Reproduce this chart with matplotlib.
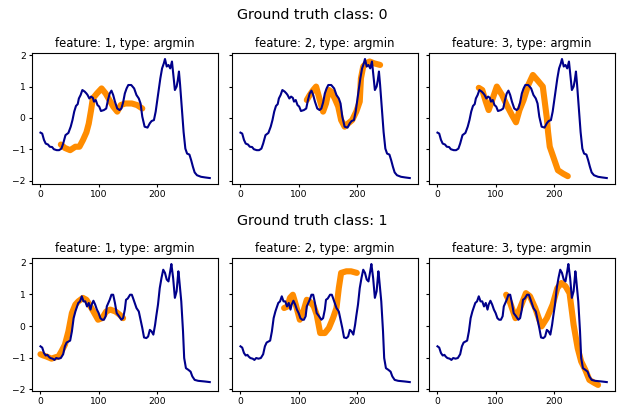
import matplotlib
matplotlib.use("Agg")
import matplotlib.pyplot as plt

# -----------------------------
# data
# -----------------------------
series_class0 = [
    (0, -0.47), (3, -0.5), (6, -0.7), (9, -0.82), (13, -0.85), (16, -0.92), (20, -0.93),
    (23, -1.0), (28, -1.03), (32, -1.03), (36, -0.98), (39, -0.82), (43, -0.55), (48, -0.48),
    (52, -0.28), (55, -0.07), (58, 0.2), (61, 0.38), (64, 0.44), (66, 0.62), (69, 0.73),
    (72, 0.89), (76, 0.84), (79, 0.78), (81, 0.73), (84, 0.62), (87, 0.68), (90, 0.64),
    (92, 0.52), (95, 0.57), (98, 0.41), (101, 0.36), (104, 0.22), (109, 0.25), (113, 0.3),
    (116, 0.57), (119, 0.78), (122, 0.87), (125, 0.73), (128, 0.52), (132, 0.3), (136, 0.25),
    (139, 0.3), (142, 0.49), (145, 0.78), (148, 0.94), (151, 1.05), (156, 1.05), (161, 0.94),
    (165, 0.73), (169, 0.62), (172, 0.46), (175, 0.04), (179, -0.28), (184, -0.31),
    (188, -0.17), (191, -0.1), (195, -0.07), (198, 0.2), (202, 0.73), (206, 1.26), (209, 1.58),
    (212, 1.74), (214, 1.88), (217, 1.64), (220, 1.69), (223, 1.58), (226, 1.8), (229, 1.26),
    (231, 0.89), (234, 1.0), (236, 1.2), (238, 1.48), (240, 1.05), (243, 0.3), (246, -0.45),
    (249, -0.98), (252, -1.14), (256, -1.17), (259, -1.35), (262, -1.56), (265, -1.74),
    (269, -1.83), (276, -1.88), (283, -1.9), (291, -1.92),
]

series_class1 = [
    (0, -0.64), (3, -0.68), (6, -0.85), (9, -0.93), (12, -0.91), (14, -0.96), (17, -1.01),
    (21, -1.03), (24, -1.07), (27, -1.01), (31, -1.03), (35, -1.01), (39, -0.89), (42, -0.64),
    (45, -0.52), (48, -0.49), (51, -0.46), (54, -0.17), (57, 0.25), (60, 0.46), (62, 0.57),
    (65, 0.73), (68, 0.78), (71, 0.94), (74, 0.78), (77, 0.78), (80, 0.62), (83, 0.73),
    (86, 0.52), (88, 0.68), (91, 0.8), (94, 0.68), (97, 0.52), (100, 0.41), (103, 0.25),
    (106, 0.2), (109, 0.2), (112, 0.31), (114, 0.62), (119, 0.83), (122, 0.99), (125, 0.99),
    (128, 0.73), (131, 0.41), (135, 0.31), (139, 0.2), (142, 0.25), (145, 0.52), (147, 0.83),
    (150, 0.87), (154, 0.99), (157, 0.99), (159, 0.89), (162, 0.73), (165, 0.57), (169, 0.46),
    (172, 0.2), (175, -0.06), (178, -0.36), (182, -0.38), (185, -0.33), (188, -0.12),
    (191, -0.17), (194, -0.27), (197, 0.04), (199, 0.31), (202, 0.68), (205, 1.2), (208, 1.52),
    (211, 1.78), (214, 1.68), (217, 1.47), (220, 1.41), (223, 1.73), (225, 1.96), (228, 1.52),
    (231, 0.89), (234, 1.1), (237, 1.73), (238, 1.57), (242, 0.78), (245, -0.17), (247, -1.01),
    (250, -1.33), (254, -1.38), (258, -1.44), (261, -1.59), (265, -1.7), (271, -1.73),
    (282, -1.75), (291, -1.77),
]

# argmin subsequences (orange), one per feature
shapelets_class0 = [
    [(35, -0.85), (42, -0.96), (51, -1.03), (60, -0.92), (67, -0.92), (73, -0.71),
     (79, -0.46), (83, -0.18), (87, 0.25), (90, 0.62), (97, 0.78), (105, 0.94), (112, 0.78),
     (117, 0.62), (125, 0.36), (132, 0.2), (138, 0.41), (146, 0.46), (157, 0.46),
     (166, 0.41), (175, 0.3)],
    [(114, 0.57), (119, 0.73), (125, 0.89), (130, 1.0), (134, 0.73), (138, 0.46), (142, 0.2),
     (147, 0.46), (152, 0.89), (156, 0.84), (162, 0.62), (168, 0.36), (173, -0.07),
     (179, -0.28), (185, -0.18), (192, -0.07), (199, 0.2), (205, 0.52), (207, 1.26),
     (211, 1.64), (216, 1.74), (222, 1.8), (230, 1.74), (240, 1.69)],
    [(71, 0.96), (77, 0.89), (83, 0.52), (88, 0.25), (94, 0.57), (102, 1.0), (111, 0.73),
     (119, 0.41), (128, 0.09), (135, -0.14), (141, 0.25), (148, 0.57), (156, 1.05),
     (164, 1.37), (172, 1.2), (181, 1.0), (188, -0.01), (190, -0.44), (193, -0.92),
     (199, -1.24), (207, -1.67), (216, -1.78), (224, -1.86)],
]

shapelets_class1 = [
    [(0, -0.89), (5, -0.93), (10, -0.96), (19, -1.03), (25, -0.99), (31, -0.96), (36, -0.8),
     (42, -0.59), (48, -0.17), (54, 0.41), (60, 0.68), (65, 0.78), (73, 0.89), (79, 0.83),
     (84, 0.68), (91, 0.46), (99, 0.2), (106, 0.25), (113, 0.46), (120, 0.52), (129, 0.46),
     (136, 0.36), (142, 0.25)],
    [(75, 0.57), (81, 0.62), (85, 0.89), (90, 0.99), (95, 0.68), (102, 0.2), (108, 0.46),
     (114, 0.83), (119, 0.78), (126, 0.62), (131, 0.36), (137, -0.22), (145, -0.22),
     (152, -0.06), (159, 0.25), (165, 0.57), (169, 1.2), (173, 1.68), (182, 1.73),
     (190, 1.73), (200, 1.68)],
    [(118, 0.99), (125, 0.73), (134, 0.25), (142, 0.57), (152, 1.04), (159, 0.94),
     (168, 0.57), (179, -0.01), (188, 0.25), (198, 0.68), (206, 1.2), (213, 1.36),
     (220, 1.26), (227, 1.04), (234, 0.04), (241, -0.7), (247, -1.12), (254, -1.38),
     (261, -1.7), (270, -1.8), (276, -1.86)],
]

class_labels = [0, 1]
feature_ids = [1, 2, 3]
feature_type = "argmin"

# -----------------------------
# figure
# -----------------------------
fig = plt.figure(figsize=(6.25, 4.08), dpi=100)

col_left = [0.0512, 0.3712, 0.6864]
ax_w = 0.298
row_bottom = [0.549, 0.0417]
row_h = [0.321, 0.326]
suptitle_y = [0.964, 0.459]

rows = [(series_class0, shapelets_class0), (series_class1, shapelets_class1)]

for r, (series, shapelets) in enumerate(rows):
    xs = [p[0] for p in series]
    ys = [p[1] for p in series]
    first = None
    for c, fid in enumerate(feature_ids):
        rect = [col_left[c], row_bottom[r], ax_w, row_h[r]]
        ax = fig.add_axes(rect, sharey=first)
        if first is None:
            first = ax
        else:
            ax.tick_params(labelleft=False)
        sx = [p[0] for p in shapelets[c]]
        sy = [p[1] for p in shapelets[c]]
        ax.plot(sx, sy, color="darkorange", linewidth=4.4, solid_capstyle="round")
        ax.plot(xs, ys, color="darkblue", linewidth=1.5)
        ax.set_title(f"feature: {fid}, type: {feature_type}", fontsize=8.4, pad=4)
        ax.tick_params(labelsize=6.6, length=2.5, pad=2)
        ax.set_xticks([0, 100, 200])
        ax.set_yticks([-2, -1, 0, 1, 2])
    fig.text(0.5, suptitle_y[r], f"Ground truth class: {class_labels[r]}",
             ha="center", va="center", fontsize=10.3)

fig.savefig("out.png", dpi=100)
